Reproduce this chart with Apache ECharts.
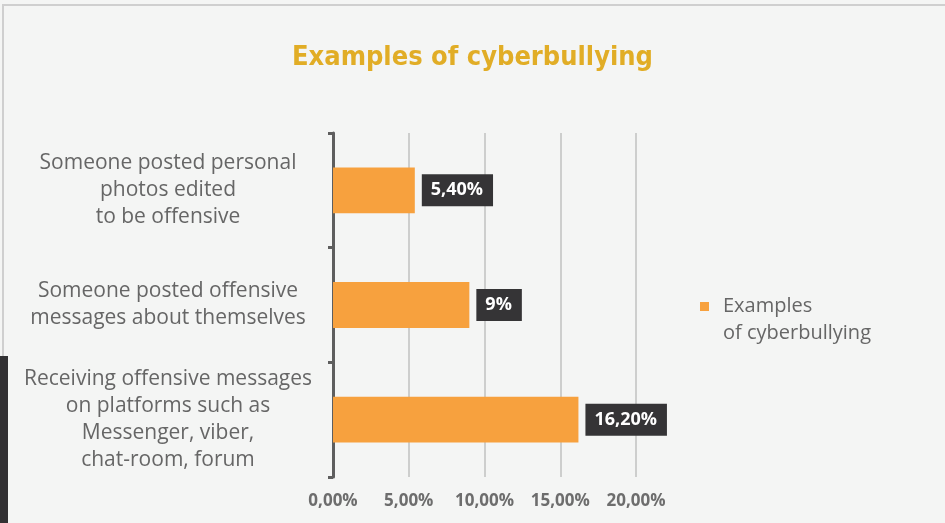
<!DOCTYPE html>
<html>
<head>
<meta charset="utf-8">
<script src="https://cdn.jsdelivr.net/npm/echarts@6/dist/echarts.min.js"></script>
<style>
html, body { margin: 0; padding: 0; background: #f4f5f4; }
#chart { width: 945px; height: 523px; }
</style>
</head>
<body>
<div id="chart"></div>
<script>
var categories = [
	'Someone posted personal\nphotos edited\nto be offensive',
	'Someone posted offensive\nmessages about themselves',
	'Receiving offensive messages\non platforms such as\nMessenger, viber,\nchat-room, forum'
];
var values = [5.4, 9, 16.2];
var valueLabels = ['5,40%', '9%', '16,20%'];
var seriesName = 'Examples of cyberbullying';

var myChart = echarts.init(document.getElementById('chart'));
var option = {
	backgroundColor: '#f4f5f4',
	animation: false,
	textStyle: { fontFamily: 'Open Sans' },
	title: {
		text: 'Examples of cyberbullying',
		left: 'center',
		top: 39,
		textStyle: {
			fontFamily: 'DejaVu Sans Condensed',
			fontWeight: 'bold',
			fontSize: 27,
			color: '#e1ad26'
		}
	},
	graphic: [
		// frame line top + left, dark strip bottom left
		{ type: 'rect', shape: { x: 3, y: 5, width: 950, height: 600 }, style: { fill: null, stroke: '#cfcfcf', lineWidth: 2 }, silent: true },
		{ type: 'rect', shape: { x: 0, y: 356, width: 8, height: 170 }, style: { fill: '#323133' }, silent: true }
	],
	legend: {
		orient: 'vertical',
		left: 700,
		top: 266,
		padding: 0,
		icon: 'rect',
		itemWidth: 9,
		itemHeight: 9,
		// blank first line keeps the marker beside "Examples"
		formatter: function (name) { return ' \nExamples\nof cyberbullying'; },
		textStyle: { fontSize: 20, color: '#666666', lineHeight: 27, padding: [0, 0, 0, 9] }
	},
	grid: {
		left: 333,
		right: 309,
		top: 133,
		bottom: 46,
		containLabel: false
	},
	xAxis: {
		type: 'value',
		min: 0,
		max: 20,
		interval: 5,
		axisLine: { show: false },
		axisTick: { show: false },
		axisLabel: {
			margin: 16,
			fontSize: 17,
			fontWeight: 'bold',
			color: '#6d6d6d',
			formatter: function (v) { return v.toFixed(2).replace('.', ',') + '%'; }
		},
		splitLine: { show: true, lineStyle: { color: '#c0c0c0', width: 1.5 } }
	},
	yAxis: {
		type: 'category',
		inverse: true,
		data: categories,
		axisLine: { show: true, lineStyle: { color: '#5e5e5e', width: 3 } },
		axisTick: { show: true, length: 5, lineStyle: { color: '#5e5e5e', width: 3 } },
		axisLabel: {
			margin: 165,
			fontSize: 21,
			lineHeight: 27,
			color: '#666666',
			align: 'center'
		}
	},
	series: [{
		name: seriesName,
		type: 'bar',
		data: values,
		barWidth: '40%',
		itemStyle: { color: '#f7a13e' },
		label: {
			show: true,
			position: 'right',
			distance: 7,
			backgroundColor: '#353436',
			color: '#ffffff',
			fontSize: 18,
			fontWeight: 'bold',
			padding: [7, 10, 7, 9],
			formatter: function (p) { return valueLabels[p.dataIndex]; }
		}
	}]
};
myChart.setOption(option);
</script>
</body>
</html>
